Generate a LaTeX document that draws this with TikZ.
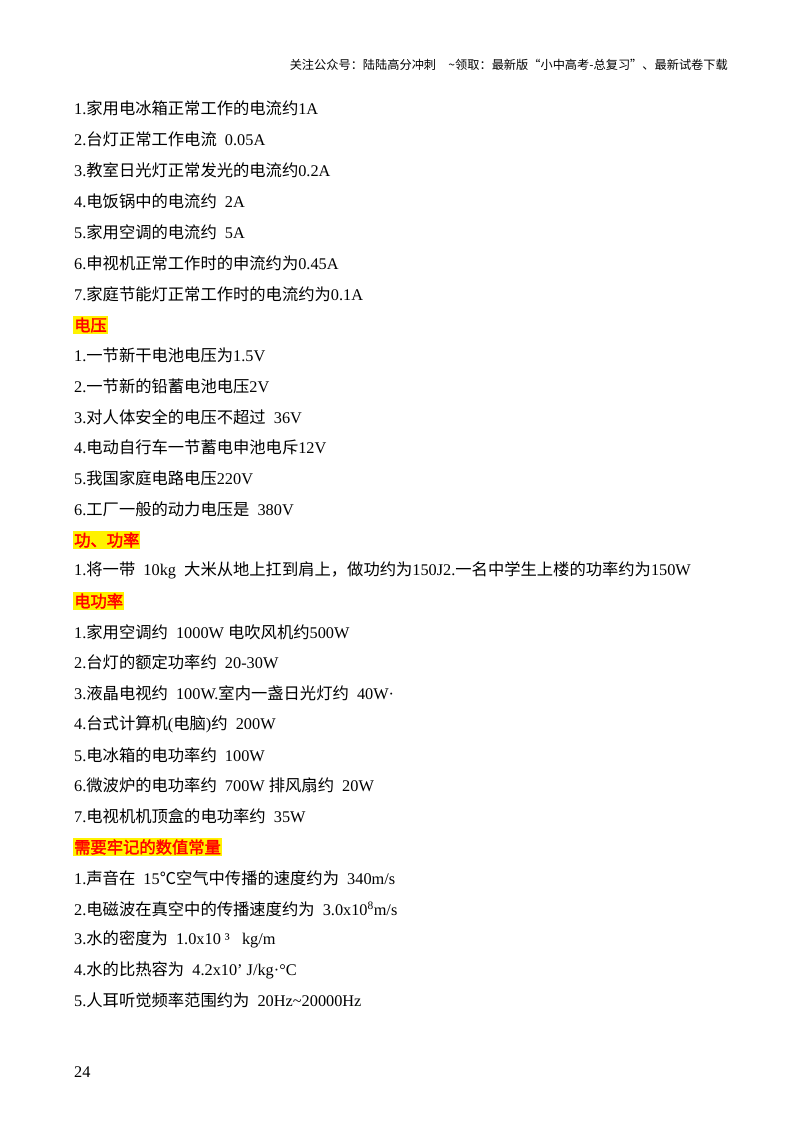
\documentclass[tikz,border=0pt]{standalone}
\usepackage{fontspec}
\setmainfont{Liberation Serif}
\newfontfamily\cjk{Noto Sans CJK SC}
\newfontfamily\cjkb{Noto Sans CJK SC}[FakeBold=2]
\newcommand\nointer{\XeTeXinterchartokenstate=0\relax}
\newXeTeXintercharclass\CJKcls
\count255="4E00 \loop \XeTeXcharclass\count255=\CJKcls \ifnum\count255<"9FFF \advance\count255 1 \repeat
\count255="3000 \loop \XeTeXcharclass\count255=\CJKcls \ifnum\count255<"303F \advance\count255 1 \repeat
\count255="FF00 \loop \XeTeXcharclass\count255=\CJKcls \ifnum\count255<"FF5F \advance\count255 1 \repeat
\XeTeXcharclass"2103=\CJKcls
\XeTeXinterchartoks 0 \CJKcls = {\begingroup\cjk}
\XeTeXinterchartoks 4095 \CJKcls = {\begingroup\cjk}
\XeTeXinterchartoks \CJKcls 0 = {\endgroup}
\XeTeXinterchartoks \CJKcls 4095 = {\endgroup}
\XeTeXinterchartokenstate=1
\begin{document}
\begin{tikzpicture}[x=1pt,y=-1pt,
  ln/.style={anchor=west,inner sep=0pt,font=\fontsize{16.3}{19}\selectfont},
  hd/.style={anchor=west,inner xsep=1pt,inner ysep=1.5pt,fill=yellow,text=red,font=\fontsize{16.3}{19}\selectfont\nointer\cjkb}]
\useasboundingbox (0,0) rectangle (800,1132);
\node[anchor=east,inner sep=0pt,font=\fontsize{12.2}{14}\selectfont\nointer\cjk] (hdr) at (728,65) {关注公众号：陆陆高分冲刺\quad \textasciitilde 领取：最新版“小中高考-总复习”、最新试卷下载};
\node[ln] (a1) at (74,108) {1.家用电冰箱正常工作的电流约1A};
\node[ln] (a2) at (74,139) {2.台灯正常工作电流\ \ 0.05A};
\node[ln] (a3) at (74,170) {3.教室日光灯正常发光的电流约0.2A};
\node[ln] (a4) at (74,201) {4.电饭锅中的电流约\ \ 2A};
\node[ln] (a5) at (74,232) {5.家用空调的电流约\ \ 5A};
\node[ln] (a6) at (74,263) {6.申视机正常工作时的申流约为0.45A};
\node[ln] (a7) at (74,294) {7.家庭节能灯正常工作时的电流约为0.1A};
\node[hd] (h1) at (73,325) {电压};
\node[ln] (b1) at (74,355) {1.一节新干电池电压为1.5V};
\node[ln] (b2) at (74,386) {2.一节新的铅蓄电池电压2V};
\node[ln] (b3) at (74,417) {3.对人体安全的电压不超过\ \ 36V};
\node[ln] (b4) at (74,447) {4.电动自行车一节蓄电申池电斥12V};
\node[ln] (b5) at (74,478) {5.我国家庭电路电压220V};
\node[ln] (b6) at (74,509) {6.工厂一般的动力电压是\ \ 380V};
\node[hd] (h2) at (73,540) {功、功率};
\node[ln] (c1) at (74,570) {1.将一带\ \ 10kg\ \ 大米从地上扛到肩上，做功约为150J2.一名中学生上楼的功率约为150W};
\node[hd] (h3) at (73,601) {电功率};
\node[ln] (d1) at (74,632) {1.家用空调约\ \ 1000W 电吹风机约500W};
\node[ln] (d2) at (74,662) {2.台灯的额定功率约\ \ 20-30W};
\node[ln] (d3) at (74,693) {3.液晶电视约\ \ 100W.室内一盏日光灯约\ \ 40W·};
\node[ln] (d4) at (74,724) {4.台式计算机(电脑)约\ \ 200W};
\node[ln] (d5) at (74,755) {5.电冰箱的电功率约\ \ 100W};
\node[ln] (d6) at (74,785) {6.微波炉的电功率约\ \ 700W 排风扇约\ \ 20W};
\node[ln] (d7) at (74,816) {7.电视机机顶盒的电功率约\ \ 35W};
\node[hd] (h4) at (73,847) {需要牢记的数值常量};
\node[ln] (e1) at (74,878) {1.声音在\ \ 15℃空气中传播的速度约为\ \ 340m/s};
\node[ln] (e2) at (74,909) {2.电磁波在真空中的传播速度约为\ \ 3.0x10\textsuperscript{8}m/s};
\node[ln] (e3) at (74,939) {3.水的密度为\ \ 1.0x10 ³\ \ \ kg/m};
\node[ln] (e4) at (74,970) {4.水的比热容为\ \ 4.2x10’ J/kg·°C};
\node[ln] (e5) at (74,1000) {5.人耳听觉频率范围约为\ \ 20Hz\textasciitilde 20000Hz};
\node[ln] (pg) at (74,1072) {24};
\end{tikzpicture}
\end{document}
